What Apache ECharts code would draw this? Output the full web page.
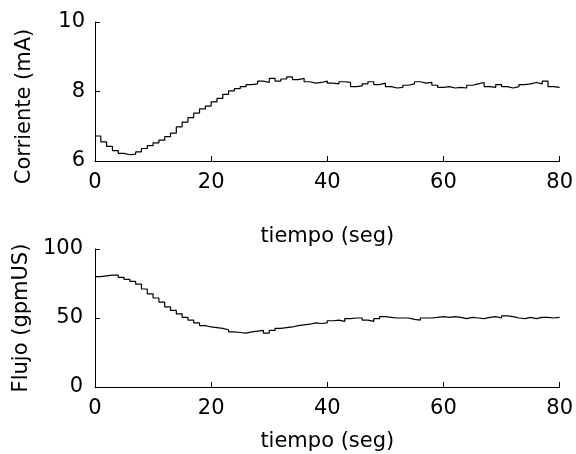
<!DOCTYPE html>
<html>
<head>
  <meta charset="utf-8">
  <title>Corriente y Flujo</title>
  <script src="https://cdn.jsdelivr.net/npm/echarts@6/dist/echarts.min.js"></script>
  <style>
    html, body { margin: 0; padding: 0; background: #fff; }
    #main { width: 576px; height: 454px; }
  </style>
</head>
<body>
  <div id="main"></div>
  <script type="text/javascript">
    // tiempo (seg)
    const tiempo = [0, 1, 2, 3, 4, 5, 6, 7, 8, 9, 10, 11, 12, 13, 14, 15, 16, 17, 18, 19,
      20, 21, 22, 23, 24, 25, 26, 27, 28, 29, 30, 31, 32, 33, 34, 35, 36, 37, 38, 39,
      40, 41, 42, 43, 44, 45, 46, 47, 48, 49, 50, 51, 52, 53, 54, 55, 56, 57, 58, 59,
      60, 61, 62, 63, 64, 65, 66, 67, 68, 69, 70, 71, 72, 73, 74, 75, 76, 77, 78, 79, 80]
    // Corriente (mA)
    const corriente = [6.72, 6.55, 6.42, 6.30, 6.22, 6.18, 6.20, 6.26, 6.36, 6.44,
      6.52, 6.60, 6.70, 6.80, 6.98, 7.12, 7.25, 7.38, 7.50, 7.58,
      7.70, 7.80, 7.92, 8.02, 8.08, 8.14, 8.20, 8.22, 8.30, 8.26,
      8.38, 8.30, 8.36, 8.42, 8.34, 8.38, 8.28, 8.24, 8.26, 8.30,
      8.24, 8.22, 8.28, 8.26, 8.14, 8.16, 8.22, 8.28, 8.20, 8.24,
      8.14, 8.10, 8.12, 8.18, 8.22, 8.28, 8.24, 8.26, 8.18, 8.12,
      8.14, 8.10, 8.12, 8.10, 8.18, 8.22, 8.26, 8.14, 8.12, 8.20,
      8.14, 8.10, 8.14, 8.20, 8.22, 8.26, 8.22, 8.30, 8.14, 8.12, 8.12]
    // Flujo (gpmUS)
    const flujo = [80, 80.5, 81, 81, 79.5, 78, 76.5, 74.5, 71, 67.5,
      64.5, 61.5, 58, 55.5, 53, 50.5, 48.5, 46.5, 44.5, 43.5,
      43, 42.5, 41.5, 40, 39.5, 39, 40, 40.5, 41, 39,
      41, 42.5, 43, 43.5, 44.5, 45, 45.5, 46.5, 46, 46.5,
      48, 48.5, 47.5, 49.5, 50, 50, 48.5, 47.5, 49.5, 51,
      50.5, 50, 50, 50, 49, 48.5, 50, 50, 50.5, 51,
      50.5, 51, 50.5, 49.5, 50.5, 50, 49.5, 50.5, 51, 50,
      51.5, 51, 50, 49.5, 50.5, 49.5, 50.5, 50.5, 50, 50.5, 50.5]

    const FONT = 'DejaVu Sans'
    let log = console.log.bind(console)

    let pairs = (xs, ys) => xs.map((x, i) => [x, ys[i]])

    let makeAxis = (extra, labelMargin) => {
      let axis = {
        type: 'value',
        axisLine: { show: true, lineStyle: { color: '#000', width: 1 } },
        axisTick: { show: true, inside: true, length: 5, lineStyle: { color: '#000' } },
        splitLine: { show: false },
        axisLabel: { color: '#000', fontSize: 21, fontFamily: FONT, margin: labelMargin },
        nameTextStyle: { color: '#000', fontSize: 21, fontFamily: FONT },
      }
      return Object.assign(axis, extra)
    }

    const OPTION = {
      backgroundColor: '#fff',
      animation: false,
      grid: [
        { left: 95, right: 14, top: 22, height: 139 },
        { left: 95, right: 14, top: 249, height: 138 },
      ],
      xAxis: [
        makeAxis({ gridIndex: 0, min: 0, max: 80, interval: 20, name: 'tiempo (seg)', nameLocation: 'middle', nameGap: 65 }, 11),
        makeAxis({ gridIndex: 1, min: 0, max: 80, interval: 20, name: 'tiempo (seg)', nameLocation: 'middle', nameGap: 44 }, 11),
      ],
      yAxis: [
        makeAxis({ gridIndex: 0, min: 6, max: 10, interval: 2, name: 'Corriente (mA)', nameLocation: 'middle', nameGap: 60 }, 10),
        makeAxis({ gridIndex: 1, min: 0, max: 100, interval: 50, name: 'Flujo (gpmUS)', nameLocation: 'middle', nameGap: 60 }, 12),
      ],
      series: [
        {
          name: 'Corriente',
          type: 'line',
          xAxisIndex: 0,
          yAxisIndex: 0,
          step: 'end',
          showSymbol: false,
          lineStyle: { color: '#000', width: 1.2 },
          data: pairs(tiempo, corriente),
        },
        {
          name: 'Flujo',
          type: 'line',
          xAxisIndex: 1,
          yAxisIndex: 1,
          step: 'end',
          showSymbol: false,
          lineStyle: { color: '#000', width: 1.2 },
          data: pairs(tiempo, flujo),
        },
      ],
    }
    // la etiqueta de Corriente queda algo más abajo que el centro del eje
    OPTION.yAxis[0].nameTextStyle = Object.assign({}, OPTION.yAxis[0].nameTextStyle, { padding: [0, 30, 0, 0] })

    let drawChart = (option) => {
      let element = document.querySelector('#main')
      let chart = echarts.init(element)
      chart.setOption(option)
    }

    let main = () => {
      drawChart(OPTION)
    }
    main()
  </script>
</body>
</html>
